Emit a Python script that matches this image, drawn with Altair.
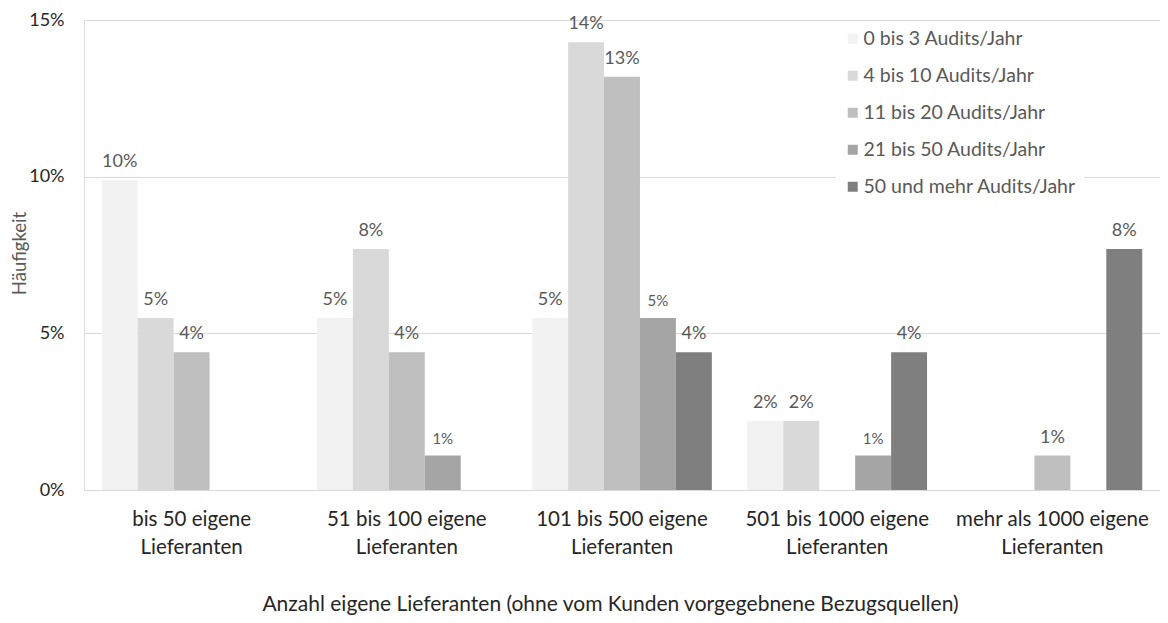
import altair as alt
import pandas as pd

groups = [
    "bis 50 eigene Lieferanten",
    "51 bis 100 eigene Lieferanten",
    "101 bis 500 eigene Lieferanten",
    "501 bis 1000 eigene Lieferanten",
    "mehr als 1000 eigene Lieferanten",
]
series = [
    "0 bis 3 Audits/Jahr",
    "4 bis 10 Audits/Jahr",
    "11 bis 20 Audits/Jahr",
    "21 bis 50 Audits/Jahr",
    "50 und mehr Audits/Jahr",
]
colors = ["#f2f2f2", "#d9d9d9", "#bfbfbf", "#a5a5a5", "#7f7f7f"]

# percentages per series, one value per group
s1 = [9.89, 5.49, 5.49, 2.20, 0.0]
s2 = [5.49, 7.69, 14.29, 2.20, 0.0]
s3 = [4.40, 4.40, 13.19, 0.0, 1.10]
s4 = [0.0, 1.10, 5.49, 1.10, 0.0]
s5 = [0.0, 0.0, 4.40, 4.40, 7.69]
values = [s1, s2, s3, s4, s5]

rows = []
for si, sname in enumerate(series):
    for gi, gname in enumerate(groups):
        rows.append({"group": gname, "series": sname, "value": values[si][gi] / 100.0})
df = pd.DataFrame(rows)

FONT = "Lato"

x_enc = alt.X(
    "group:N",
    sort=groups,
    scale=alt.Scale(paddingInner=0.165, paddingOuter=0.0825),
    axis=alt.Axis(
        title="Anzahl eigene Lieferanten (ohne vom Kunden vorgegebnene Bezugsquellen)",
        labelAngle=0,
        labelExpr="[replace(datum.label, ' Lieferanten', ''), 'Lieferanten']",
        ticks=False,
        domain=False,
        labelPadding=19,
        labelLineHeight=28,
        labelFontSize=20.5,
        labelColor="#262626",
        labelFont=FONT,
        labelLimit=0,
        titleFont=FONT,
        titleFontSize=21,
        titleFontWeight="normal",
        titleColor="#262626",
        titleX=526,
        titleY=114,
        titleBaseline="middle",
    ),
)
xoff = alt.XOffset("series:N", sort=series, scale=alt.Scale(domain=series, paddingInner=0, paddingOuter=0))
y_enc = alt.Y(
    "value:Q",
    scale=alt.Scale(domain=[0, 0.15], nice=False),
    axis=alt.Axis(
        format=".0%",
        values=[0, 0.05, 0.10, 0.15],
        title="Häufigkeit",
        ticks=False,
        domain=False,
        gridColor="#d9d9d9",
        gridWidth=1.2,
        labelPadding=20,
        labelFontSize=18,
        labelColor="#262626",
        labelFont=FONT,
        titleFont=FONT,
        titleFontSize=18.5,
        titleFontWeight="normal",
        titleColor="#595959",
        titleX=-65,
        titleY=233,
        titleBaseline="middle",
        titleAlign="center",
    ),
)

bars = alt.Chart(df).mark_bar().encode(
    x=x_enc,
    xOffset=xoff,
    y=y_enc,
    color=alt.Color(
        "series:N",
        sort=series,
        scale=alt.Scale(domain=series, range=colors),
        legend=alt.Legend(
            title=None,
            orient="none",
            legendX=752,
            legendY=2,
            fillColor="white",
            padding=7,
            rowPadding=16,
            symbolType="square",
            symbolSize=100,
            symbolStrokeWidth=0,
            labelFontSize=19.5,
            labelFont=FONT,
            labelColor="#595959",
            labelOffset=1,
            labelLimit=0,
        ),
    ),
)

base_txt = alt.Chart(df).encode(
    x=alt.X("group:N", sort=groups),
    xOffset=xoff,
    y=alt.Y("value:Q"),
    text=alt.Text("value:Q", format=".0%"),
)
labels_big = base_txt.transform_filter(
    "datum.value > 0 && datum.series != '21 bis 50 Audits/Jahr'"
).mark_text(baseline="bottom", dy=-9, fontSize=18, font=FONT, color="#595959")
labels_small = base_txt.transform_filter(
    "datum.value > 0 && datum.series == '21 bis 50 Audits/Jahr'"
).mark_text(baseline="bottom", dy=-9, fontSize=15, font=FONT, color="#595959")

chart = (
    alt.layer(bars, labels_big, labels_small)
    .properties(
        width=1076,
        height=470,
        autosize=alt.AutoSizeParams(type="none"),
        padding={"left": 76, "top": 12, "right": 0, "bottom": 125},
    )
    .configure_view(stroke=None)
    .configure(font=FONT)
)

chart.save("out.html", embed_options={"renderer": "svg", "actions": False})
